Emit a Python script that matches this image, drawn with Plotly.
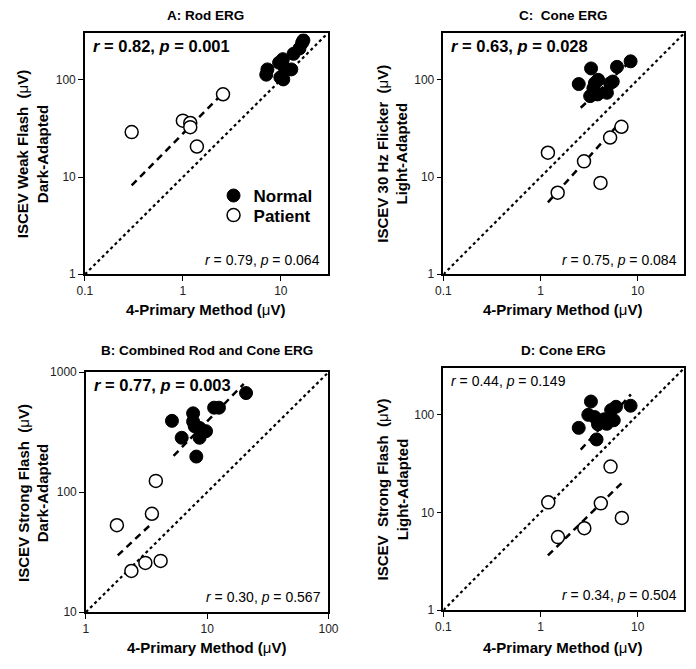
import plotly.graph_objects as go
import math

# ---------------- data ----------------
# Panel A: Rod ERG
A_normal_x = [7.1, 7.3, 9.6, 10.5, 11.0, 12.8, 9.9, 10.6, 13.5, 15.5, 16.5, 17.0]
A_normal_y = [113, 128, 150, 163, 132, 128, 106, 101, 185, 210, 240, 255]
A_patient_x = [0.3, 1.0, 1.19, 1.19, 1.39, 2.57]
A_patient_y = [29, 38, 36, 32.6, 20.6, 71]
A_patfit_x = [0.3, 2.67]
A_patfit_y = [8.2, 76]

# Panel C: Cone ERG (30 Hz flicker)
C_normal_x = [2.47, 3.31, 3.92, 3.63, 3.24, 3.86, 4.82, 5.54, 6.12, 8.45, 3.5, 5.2]
C_normal_y = [90.5, 131, 100, 92.6, 68, 70.8, 73.6, 96, 136, 155, 82, 92]
C_patient_x = [1.19, 1.5, 2.8, 4.14, 5.2, 6.8]
C_patient_y = [17.8, 6.9, 14.5, 8.7, 25.5, 32.9]
C_normfit_x = [2.59, 8.51]
C_normfit_y = [51.6, 157]
C_patfit_x = [1.19, 6.2]
C_patfit_y = [5.5, 34.1]

# Panel B: Combined Rod and Cone ERG
B_normal_x = [5.12, 6.16, 7.65, 7.65, 7.89, 8.65, 8.65, 9.78, 8.13, 11.4, 12.5, 20.9]
B_normal_y = [393, 284, 454, 388, 354, 343, 284, 322, 198, 506, 506, 670]
B_patient_x = [1.8, 3.5, 3.77, 2.37, 3.09, 4.13]
B_patient_y = [53, 66, 124, 22, 25.7, 26.7]
B_normfit_x = [5.28, 20.0]
B_normfit_y = [201, 798]
B_patfit_x = [1.83, 3.44]
B_patfit_y = [29.7, 54]

# Panel D: Cone ERG (strong flash light-adapted)
D_normal_x = [2.47, 3.3, 3.1, 3.6, 3.9, 3.77, 4.8, 5.33, 5.98, 5.67, 8.45, 4.5]
D_normal_y = [73.6, 137, 100, 95, 80, 56, 81, 112, 121, 88, 124, 90]
D_patient_x = [1.2, 1.51, 2.82, 4.17, 5.25, 6.87]
D_patient_y = [12.7, 5.6, 6.9, 12.4, 29.5, 8.8]
D_normfit_x = [2.59, 8.51]
D_normfit_y = [44, 162]
D_patfit_x = [1.19, 6.97]
D_patfit_y = [3.63, 20.4]

# axis ranges (data units)
small_xrange = [0.1, 30]
small_yrange = [1, 300]
B_xrange = [1, 100]
B_yrange = [10, 1000]
small_xticks = [0.1, 1, 10]
small_yticks = [1, 10, 100]
B_xticks = [1, 10, 100]
B_yticks = [10, 100, 1000]

W, H = 696, 669
FONT = 'Liberation Sans, Arial, sans-serif'

def px_x(p):
    return p / W

def px_y(p):
    return 1 - p / H

fig = go.Figure()

def add_panel(ax, nx, ny, patx, paty, fits, xr, yr):
    xa = 'x' if ax == 1 else 'x%d' % ax
    ya = 'y' if ax == 1 else 'y%d' % ax
    # identity diagonal
    fig.add_trace(go.Scatter(x=xr, y=yr, mode='lines', xaxis=xa, yaxis=ya,
                             line=dict(color='black', width=2.2, dash='dot'),
                             showlegend=False, hoverinfo='skip'))
    for fx, fy in fits:
        fig.add_trace(go.Scatter(x=fx, y=fy, mode='lines', xaxis=xa, yaxis=ya,
                                 line=dict(color='black', width=2.5, dash='7px,5px'),
                                 showlegend=False, hoverinfo='skip'))
    fig.add_trace(go.Scatter(x=nx, y=ny, mode='markers', xaxis=xa, yaxis=ya,
                             marker=dict(symbol='circle', size=13, color='black',
                                         line=dict(color='black', width=1)),
                             name='<b>Normal</b>', legend='legend',
                             showlegend=(ax == 1)))
    fig.add_trace(go.Scatter(x=patx, y=paty, mode='markers', xaxis=xa, yaxis=ya,
                             marker=dict(symbol='circle', size=13, color='white',
                                         line=dict(color='black', width=1.5)),
                             name='<b>Patient</b>', legend='legend2',
                             showlegend=(ax == 1)))

add_panel(1, A_normal_x, A_normal_y, A_patient_x, A_patient_y,
          [(A_patfit_x, A_patfit_y)], small_xrange, small_yrange)
add_panel(2, C_normal_x, C_normal_y, C_patient_x, C_patient_y,
          [(C_normfit_x, C_normfit_y), (C_patfit_x, C_patfit_y)], small_xrange, small_yrange)
add_panel(3, B_normal_x, B_normal_y, B_patient_x, B_patient_y,
          [(B_normfit_x, B_normfit_y), (B_patfit_x, B_patfit_y)], B_xrange, B_yrange)
add_panel(4, D_normal_x, D_normal_y, D_patient_x, D_patient_y,
          [(D_normfit_x, D_normfit_y), (D_patfit_x, D_patfit_y)], small_xrange, small_yrange)

def axis(domain, rng, ticks, anchor):
    return dict(type='log', domain=domain, range=[math.log10(rng[0]), math.log10(rng[1])],
                showline=True, mirror=True, linecolor='black', linewidth=1.5,
                ticks='outside', ticklen=5, tickwidth=1.2, tickcolor='black',
                tickvals=ticks, ticktext=[('%g' % t) for t in ticks],
                tickfont=dict(size=12, color='#222', family=FONT),
                showgrid=False, zeroline=False, anchor=anchor)

# plot area pixel boxes
A_box = (79, 328, 27, 273)
C_box = (447, 694, 27, 273)
B_box = (80, 329, 373, 618)
D_box = (447, 694, 369, 616)

def xd(b):
    return [px_x(b[0]), px_x(b[1])]

def yd(b):
    return [px_y(b[3]), px_y(b[2])]

leg_common = dict(xanchor='left', yanchor='middle', bgcolor='rgba(0,0,0,0)',
                  borderwidth=0, itemwidth=30, font=dict(size=17, family=FONT))

fig.update_layout(
    width=W, height=H,
    margin=dict(l=0, r=0, t=0, b=0),
    paper_bgcolor='white', plot_bgcolor='white',
    font=dict(family=FONT, color='black'),
    xaxis=axis(xd(A_box), small_xrange, small_xticks, 'y'),
    yaxis=axis(yd(A_box), small_yrange, small_yticks, 'x'),
    xaxis2=axis(xd(C_box), small_xrange, small_xticks, 'y2'),
    yaxis2=axis(yd(C_box), small_yrange, small_yticks, 'x2'),
    xaxis3=axis(xd(B_box), B_xrange, B_xticks, 'y3'),
    yaxis3=axis(yd(B_box), B_yrange, B_yticks, 'x3'),
    xaxis4=axis(xd(D_box), small_xrange, small_xticks, 'y4'),
    yaxis4=axis(yd(D_box), small_yrange, small_yticks, 'x4'),
    showlegend=True,
    legend=dict(x=px_x(211), y=px_y(193), **leg_common),
    legend2=dict(x=px_x(211), y=px_y(213), **leg_common),
)

ann = []
def txt(x, y, text, size=15, xanchor='center', yanchor='middle', angle=0):
    ann.append(dict(x=px_x(x), y=px_y(y), xref='paper', yref='paper', text=text,
                    showarrow=False, xanchor=xanchor, yanchor=yanchor, textangle=angle,
                    font=dict(size=size, color='black', family=FONT)))

mu = "(<span style='font-weight:normal'>μ</span>V)"
# titles
txt(203, 9, '<b>A: Rod ERG</b>', 13.5)
txt(570, 9, '<b>C:  Cone ERG</b>', 13.5)
txt(204, 351, '<b>B: Combined Rod and Cone ERG</b>', 13.5)
txt(570, 351, '<b>D: Cone ERG</b>', 13.5)
# x labels
for cx, cy in [(203, 309), (570, 309), (204, 654), (570, 654)]:
    txt(cx, cy, '<b>4-Primary Method ' + mu + '</b>', 15)
# y labels
txt(26, 150, '<b>ISCEV Weak Flash  ' + mu + '<br>Dark-Adapted</b>', 15, angle=-90)
txt(395, 150, '<b>ISCEV 30 Hz Flicker  ' + mu + '<br>Light-Adapted</b>', 15, angle=-90)
txt(26, 496, '<b>ISCEV Strong Flash  ' + mu + '<br>Dark-Adapted</b>', 15, angle=-90)
txt(395, 493, '<b>ISCEV  Strong Flash  ' + mu + '<br>Light-Adapted</b>', 15, angle=-90)
# statistics
txt(85, 40, '<b><i>r</i> = 0.82, <i>p</i> = 0.001</b>', 16.5, xanchor='left')
txt(322, 258, '<i>r</i> = 0.79, <i>p</i> = 0.064', 14, xanchor='right')
txt(453, 40, '<b><i>r</i> = 0.63, <i>p</i> = 0.028</b>', 16.5, xanchor='left')
txt(689, 258, '<i>r</i> = 0.75, <i>p</i> = 0.084', 14, xanchor='right')
txt(86, 386, '<b><i>r</i> = 0.77, <i>p</i> = 0.003</b>', 16.5, xanchor='left')
txt(323, 603, '<i>r</i> = 0.30, <i>p</i> = 0.567', 14, xanchor='right')
txt(453, 382, '<i>r</i> = 0.44, <i>p</i> = 0.149', 14, xanchor='left')
txt(689, 601, '<i>r</i> = 0.34, <i>p</i> = 0.504', 14, xanchor='right')
fig.update_layout(annotations=ann)

fig.write_html('out.html', config={'displayModeBar': False},
               post_script="document.body.style.margin='0';document.body.style.overflow='hidden';")
